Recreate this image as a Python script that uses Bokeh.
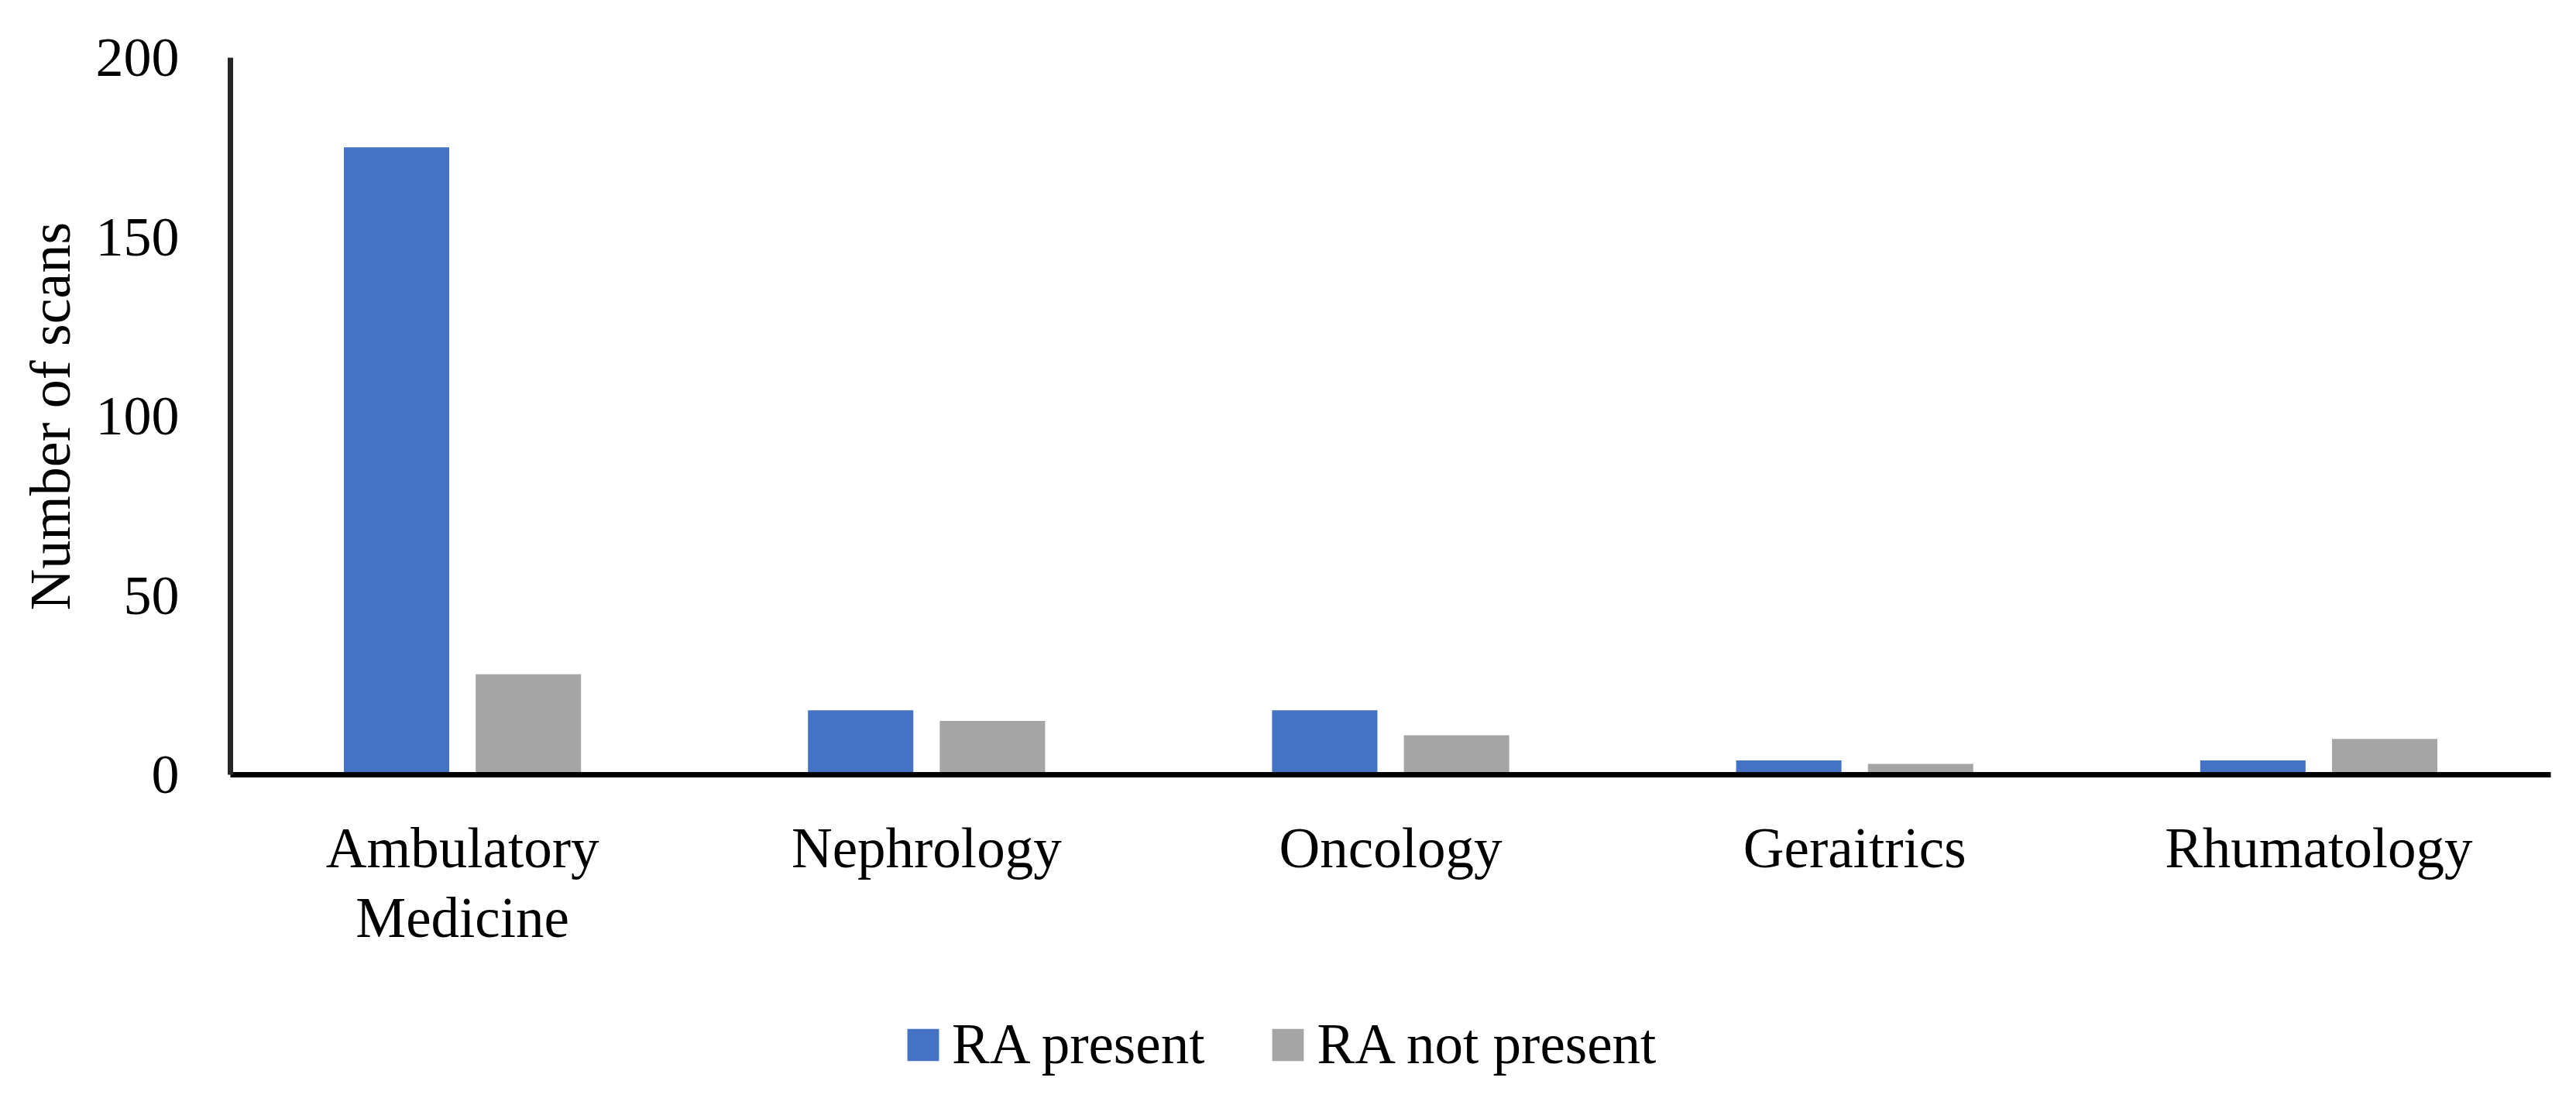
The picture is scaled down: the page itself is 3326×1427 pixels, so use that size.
from bokeh.plotting import figure
from bokeh.layouts import column
from bokeh.models import FactorRange, Range1d, Legend, LegendItem, ColumnDataSource, FixedTicker
from bokeh.transform import dodge
from bokeh.embed import file_html
from bokeh.resources import INLINE

categories = ["Ambulatory\nMedicine", "Nephrology", "Oncology", "Geraitrics", "Rhumatology"]
ra_present = [175, 18, 18, 4, 4]
ra_not_present = [28, 15, 11, 3, 10]
y_ticks = [0, 50, 100, 150, 200]
series_names = ["RA present", "RA not present"]
colors = ["#4472C4", "#A5A5A5"]

FONT = "Liberation Serif"

source = ColumnDataSource(data=dict(cat=categories, present=ra_present, notpresent=ra_not_present))
xr = FactorRange(*categories, range_padding=0)

p = figure(width=3326, height=1277, output_backend="svg", toolbar_location=None,
           x_range=xr, y_range=Range1d(0, 200),
           min_border_left=297, min_border_right=33, min_border_top=74, min_border_bottom=277)

r1 = p.vbar(x=dodge("cat", -0.142, range=xr), top="present", width=0.227,
            source=source, fill_color=colors[0], line_color=None)
r2 = p.vbar(x=dodge("cat", 0.142, range=xr), top="notpresent", width=0.227,
            source=source, fill_color=colors[1], line_color=None)

p.outline_line_color = None
p.xgrid.grid_line_color = None
p.ygrid.grid_line_color = None

# y axis
p.yaxis.ticker = FixedTicker(ticks=y_ticks)
p.yaxis.axis_line_width = 7
p.yaxis.axis_line_color = "#262626"
p.yaxis.major_tick_line_color = None
p.yaxis.minor_tick_line_color = None
p.yaxis.major_tick_out = 0
p.yaxis.major_tick_in = 0
p.yaxis.major_label_text_font = FONT
p.yaxis.major_label_text_font_size = "72px"
p.yaxis.major_label_text_color = "black"
p.yaxis.major_label_standoff = 66
p.yaxis.axis_label = "Number of scans"
p.yaxis.axis_label_text_font = FONT
p.yaxis.axis_label_text_font_size = "74px"
p.yaxis.axis_label_text_font_style = "normal"
p.yaxis.axis_label_text_color = "black"
p.yaxis.axis_label_standoff = 15

# x axis
p.xaxis.axis_line_width = 7
p.xaxis.axis_line_color = "black"
p.xaxis.major_tick_line_color = None
p.xaxis.minor_tick_line_color = None
p.xaxis.major_tick_out = 0
p.xaxis.major_tick_in = 0
p.xaxis.major_label_text_font = FONT
p.xaxis.major_label_text_font_size = "73px"
p.xaxis.major_label_text_color = "black"
p.xaxis.major_label_text_line_height = 1.12
p.xaxis.major_label_standoff = 54

# legend strip below the chart (same series, zero-width bars outside the visible range)
lf = figure(width=3326, height=150, output_backend="svg", toolbar_location=None,
            x_range=xr, y_range=Range1d(1000, 1001),
            min_border=0, x_axis_type=None, y_axis_type=None)
lf.outline_line_color = None
lf.xgrid.grid_line_color = None
lf.ygrid.grid_line_color = None
l1 = lf.vbar(x=dodge("cat", -0.142, range=xr), top="present", width=0,
             source=source, fill_color=colors[0], line_color=None)
l2 = lf.vbar(x=dodge("cat", 0.142, range=xr), top="notpresent", width=0,
             source=source, fill_color=colors[1], line_color=None)

legend = Legend(items=[LegendItem(label=series_names[0], renderers=[l1]),
                       LegendItem(label=series_names[1], renderers=[l2])],
                orientation="horizontal", location=(869, 36),
                glyph_width=51, glyph_height=52, label_standoff=12, spacing=82,
                padding=0, margin=0, border_line_color=None, background_fill_alpha=0,
                label_text_font=FONT, label_text_font_size="73px", label_text_color="black",
                label_height=52, label_text_baseline="middle")
lf.add_layout(legend, "center")

layout = column(p, lf, spacing=0)
open("out.html", "w").write(file_html(layout, INLINE))
